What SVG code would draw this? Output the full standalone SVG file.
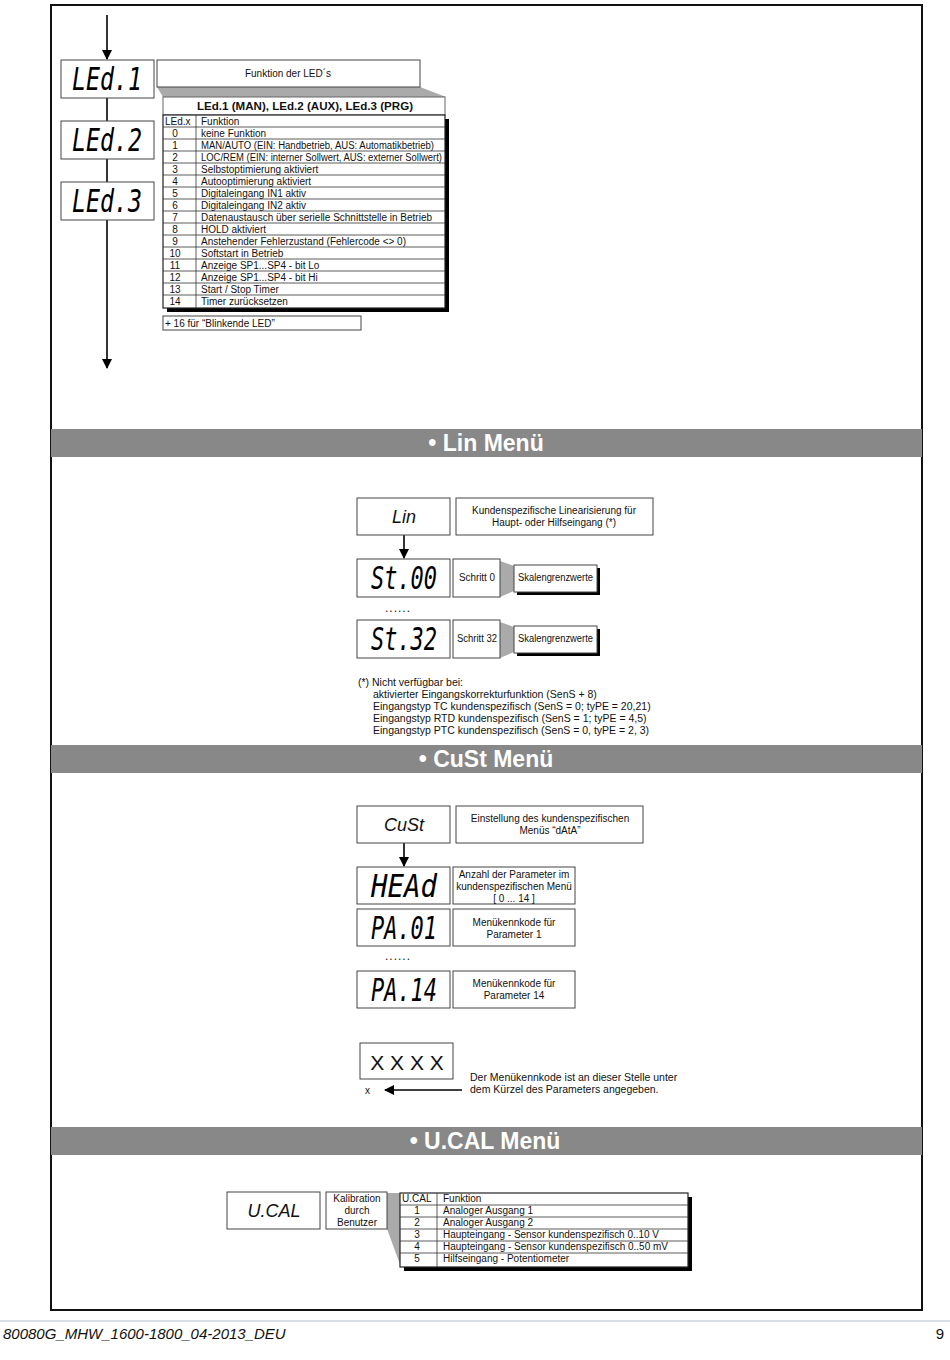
<svg xmlns="http://www.w3.org/2000/svg" width="950" height="1360" viewBox="0 0 950 1360">
<style>
text{font-family:"Liberation Sans",Arial,sans-serif;fill:#111}
.t{font-size:10px}
.tc{font-size:10px;text-anchor:middle}
.n{font-size:10.5px}
.box{fill:#fff;stroke:#444;stroke-width:1}
.seg{font-family:"DejaVu Sans Mono",monospace;font-size:26px;font-style:italic;text-anchor:middle;fill:#000}
.menu{font-size:18px;font-style:italic;text-anchor:middle}
.band{fill:#888}
.bandt{font-size:23px;font-weight:bold;fill:#fff;text-anchor:middle}
.ln{stroke:#000;stroke-width:1.6;fill:none}
.row{stroke:#333;stroke-width:0.8}
.wedge{fill:#aaa}
</style>
<defs>
<marker id="ah" markerWidth="10" markerHeight="12" refX="9" refY="5" orient="auto" markerUnits="userSpaceOnUse" viewBox="0 0 10 10">
<path d="M0,0 L10,5 L0,10 z" fill="#000"/>
</marker>
</defs>
<rect width="950" height="1360" fill="#fff"/>
<rect x="51" y="5" width="871" height="1305" fill="none" stroke="#111" stroke-width="2"/>

<g id="connectors">
<line class="ln" x1="107" y1="15" x2="107" y2="59" marker-end="url(#ah)"/>
<line class="ln" x1="107" y1="98" x2="107" y2="121"/>
<line class="ln" x1="107" y1="159" x2="107" y2="182"/>
<line class="ln" x1="107" y1="220" x2="107" y2="368" marker-end="url(#ah)"/>
<line class="ln" x1="404" y1="535" x2="404" y2="558" marker-end="url(#ah)"/>
<line class="ln" x1="404" y1="843" x2="404" y2="866" marker-end="url(#ah)"/>
<line class="ln" x1="462" y1="1090" x2="385" y2="1090" marker-end="url(#ah)"/>
</g>

<g id="led1"><rect class="box" x="61" y="60" width="93" height="38"/><text class="seg" transform="translate(107,90) scale(1,1.25)" textLength="70" lengthAdjust="spacingAndGlyphs">LEd.1</text></g>
<g id="led2"><rect class="box" x="61" y="121" width="93" height="38"/><text class="seg" transform="translate(107,151) scale(1,1.25)" textLength="70" lengthAdjust="spacingAndGlyphs">LEd.2</text></g>
<g id="led3"><rect class="box" x="61" y="182" width="93" height="38"/><text class="seg" transform="translate(107,212) scale(1,1.25)" textLength="70" lengthAdjust="spacingAndGlyphs">LEd.3</text></g>

<g id="led-title">
<polygon class="wedge" points="157,87 420,87 446,97 163,97"/>
<rect class="box" x="157" y="60" width="263" height="27"/>
<text class="tc" x="288" y="77">Funktion der LED´s</text>
</g>

<g id="led-table">
<rect x="167" y="119" width="282" height="193" fill="#000"/>
<rect x="163" y="97" width="282" height="18" fill="#fff" stroke="#666" stroke-width="1"/>
<rect x="163" y="115" width="282" height="193" fill="#fff" stroke="#222" stroke-width="1.2"/>
<text x="305" y="110" text-anchor="middle" font-size="11.5" font-weight="bold" textLength="216" lengthAdjust="spacingAndGlyphs">LEd.1 (MAN), LEd.2 (AUX), LEd.3 (PRG)</text>
<line class="row" x1="196" y1="115" x2="196" y2="308"/>
<g class="row">
<line x1="163" y1="127" x2="445" y2="127"/><line x1="163" y1="139" x2="445" y2="139"/><line x1="163" y1="151" x2="445" y2="151"/><line x1="163" y1="163" x2="445" y2="163"/><line x1="163" y1="175" x2="445" y2="175"/><line x1="163" y1="187" x2="445" y2="187"/><line x1="163" y1="199" x2="445" y2="199"/><line x1="163" y1="211" x2="445" y2="211"/><line x1="163" y1="223" x2="445" y2="223"/><line x1="163" y1="235" x2="445" y2="235"/><line x1="163" y1="247" x2="445" y2="247"/><line x1="163" y1="259" x2="445" y2="259"/><line x1="163" y1="271" x2="445" y2="271"/><line x1="163" y1="283" x2="445" y2="283"/><line x1="163" y1="295" x2="445" y2="295"/>
</g>
<text class="t" x="165" y="125">LEd.x</text><text class="t" x="201" y="125">Funktion</text>
<text class="tc" x="175" y="137">0</text><text class="t" x="201" y="137">keine Funktion</text>
<text class="tc" x="175" y="149">1</text><text class="t" x="201" y="149" textLength="233" lengthAdjust="spacingAndGlyphs">MAN/AUTO (EIN: Handbetrieb, AUS: Automatikbetrieb)</text>
<text class="tc" x="175" y="161">2</text><text class="t" x="201" y="161" textLength="241" lengthAdjust="spacingAndGlyphs">LOC/REM (EIN: interner Sollwert, AUS: externer Sollwert)</text>
<text class="tc" x="175" y="173">3</text><text class="t" x="201" y="173">Selbstoptimierung aktiviert</text>
<text class="tc" x="175" y="185">4</text><text class="t" x="201" y="185">Autooptimierung aktiviert</text>
<text class="tc" x="175" y="197">5</text><text class="t" x="201" y="197">Digitaleingang IN1 aktiv</text>
<text class="tc" x="175" y="209">6</text><text class="t" x="201" y="209">Digitaleingang IN2 aktiv</text>
<text class="tc" x="175" y="221">7</text><text class="t" x="201" y="221" textLength="231" lengthAdjust="spacingAndGlyphs">Datenaustausch über serielle Schnittstelle in Betrieb</text>
<text class="tc" x="175" y="233">8</text><text class="t" x="201" y="233">HOLD aktiviert</text>
<text class="tc" x="175" y="245">9</text><text class="t" x="201" y="245" textLength="205" lengthAdjust="spacingAndGlyphs">Anstehender Fehlerzustand (Fehlercode &lt;&gt; 0)</text>
<text class="tc" x="175" y="257">10</text><text class="t" x="201" y="257">Softstart in Betrieb</text>
<text class="tc" x="175" y="269">11</text><text class="t" x="201" y="269">Anzeige SP1...SP4 - bit Lo</text>
<text class="tc" x="175" y="281">12</text><text class="t" x="201" y="281">Anzeige SP1...SP4 - bit Hi</text>
<text class="tc" x="175" y="293">13</text><text class="t" x="201" y="293">Start / Stop Timer</text>
<text class="tc" x="175" y="305">14</text><text class="t" x="201" y="305">Timer zurücksetzen</text>
</g>

<g id="blink"><rect class="box" x="163" y="316" width="198" height="14"/><text class="t" x="165" y="327">+ 16 für “Blinkende LED”</text></g>

<g id="band-lin"><rect class="band" x="51" y="429" width="871" height="28"/><text class="bandt" x="486" y="451">• Lin Menü</text></g>

<g id="lin"><rect class="box" x="357" y="498" width="93" height="37"/><text class="menu" x="404" y="523">Lin</text></g>
<g id="lin-desc"><rect class="box" x="456" y="498" width="197" height="37"/><text class="tc" x="554" y="514">Kundenspezifische Linearisierung für</text><text class="tc" x="554" y="526">Haupt- oder Hilfseingang (*)</text></g>

<g id="st00"><rect class="box" x="357" y="559" width="93" height="38"/><text class="seg" transform="translate(404,589) scale(1,1.25)" textLength="66" lengthAdjust="spacingAndGlyphs">St.00</text></g>
<g id="schritt0">
<polygon class="wedge" points="500,561 514,566 514,591 500,597"/>
<rect class="box" x="453" y="559" width="47" height="38"/><text class="tc" x="477" y="581" textLength="36" lengthAdjust="spacingAndGlyphs">Schritt 0</text></g>
<g id="skala0"><rect x="517" y="568" width="83" height="27" fill="#000"/><rect class="box" x="514" y="565" width="83" height="27"/><text class="tc" x="555.5" y="581" textLength="75" lengthAdjust="spacingAndGlyphs">Skalengrenzwerte</text></g>
<text x="385" y="612" font-size="12" letter-spacing="1">......</text>

<g id="st32"><rect class="box" x="357" y="620" width="93" height="38"/><text class="seg" transform="translate(404,650) scale(1,1.25)" textLength="66" lengthAdjust="spacingAndGlyphs">St.32</text></g>
<g id="schritt32">
<polygon class="wedge" points="500,622 514,627 514,652 500,658"/>
<rect class="box" x="453" y="620" width="47" height="38"/><text class="tc" x="477" y="642" textLength="40" lengthAdjust="spacingAndGlyphs">Schritt 32</text></g>
<g id="skala32"><rect x="517" y="629" width="83" height="27" fill="#000"/><rect class="box" x="514" y="626" width="83" height="27"/><text class="tc" x="555.5" y="642" textLength="75" lengthAdjust="spacingAndGlyphs">Skalengrenzwerte</text></g>

<g id="lin-note">
<text class="n" x="358" y="686">(*) Nicht verfügbar bei:</text>
<text class="n" x="373" y="698">aktivierter Eingangskorrekturfunktion (SenS + 8)</text>
<text class="n" x="373" y="710">Eingangstyp TC kundenspezifisch (SenS = 0; tyPE = 20,21)</text>
<text class="n" x="373" y="722">Eingangstyp RTD kundenspezifisch (SenS = 1; tyPE = 4,5)</text>
<text class="n" x="373" y="734">Eingangstyp PTC kundenspezifisch (SenS = 0, tyPE = 2, 3)</text>
</g>

<g id="band-cust"><rect class="band" x="51" y="745" width="871" height="28"/><text class="bandt" x="486" y="767">• CuSt Menü</text></g>

<g id="cust"><rect class="box" x="357" y="806" width="93" height="37"/><text class="menu" x="404" y="831">CuSt</text></g>
<g id="cust-desc"><rect class="box" x="456" y="806" width="187" height="37"/><text class="tc" x="550" y="822">Einstellung des kundenspezifischen</text><text class="tc" x="550" y="834">Menüs “dAtA”</text></g>

<g id="head"><rect class="box" x="357" y="867" width="93" height="37"/><text class="seg" transform="translate(404,897) scale(1,1.25)" textLength="66" lengthAdjust="spacingAndGlyphs">HEAd</text></g>
<g id="head-desc"><rect class="box" x="453" y="867" width="122" height="37"/><text class="tc" x="514" y="878">Anzahl der Parameter im</text><text class="tc" x="514" y="890">kundenspezifischen Menü</text><text class="tc" x="514" y="902">[ 0 ... 14 ]</text></g>

<g id="pa01"><rect class="box" x="357" y="909" width="93" height="37"/><text class="seg" transform="translate(404,939) scale(1,1.25)" textLength="66" lengthAdjust="spacingAndGlyphs">PA.01</text></g>
<g id="pa01-desc"><rect class="box" x="453" y="909" width="122" height="37"/><text class="tc" x="514" y="926">Menükennkode für</text><text class="tc" x="514" y="938">Parameter 1</text></g>
<text x="385" y="960" font-size="12" letter-spacing="1">......</text>

<g id="pa14"><rect class="box" x="357" y="971" width="93" height="37"/><text class="seg" transform="translate(404,1001) scale(1,1.25)" textLength="66" lengthAdjust="spacingAndGlyphs">PA.14</text></g>
<g id="pa14-desc"><rect class="box" x="453" y="971" width="122" height="37"/><text class="tc" x="514" y="987">Menükennkode für</text><text class="tc" x="514" y="999">Parameter 14</text></g>

<g id="xxxx"><rect class="box" x="360" y="1043" width="93" height="36"/><text x="407" y="1070" font-size="21" text-anchor="middle">X X X X</text></g>
<text class="t" x="365" y="1094">x</text>
<g id="xxxx-note"><text class="n" x="470" y="1081">Der Menükennkode ist an dieser Stelle unter</text><text class="n" x="470" y="1093">dem Kürzel des Parameters  angegeben.</text></g>

<g id="band-ucal"><rect class="band" x="51" y="1127" width="871" height="28"/><text class="bandt" x="485" y="1149">• U.CAL Menü</text></g>

<g id="ucal"><rect class="box" x="227" y="1192" width="93" height="37"/><text class="menu" x="274" y="1217">U.CAL</text></g>
<g id="kalib">
<polygon class="wedge" points="387,1193 401,1193 401,1267 387,1229"/>
<rect class="box" x="326" y="1192" width="61" height="37"/><text class="tc" x="357" y="1202">Kalibration</text><text class="tc" x="357" y="1214">durch</text><text class="tc" x="357" y="1226">Benutzer</text></g>

<g id="ucal-table">
<rect x="404" y="1197" width="288" height="74" fill="#000"/>
<rect x="400" y="1193" width="288" height="74" fill="#fff" stroke="#222" stroke-width="1.2"/>
<line class="row" x1="437" y1="1193" x2="437" y2="1267"/>
<g class="row">
<line x1="400" y1="1205" x2="688" y2="1205"/><line x1="400" y1="1217" x2="688" y2="1217"/><line x1="400" y1="1229" x2="688" y2="1229"/><line x1="400" y1="1241" x2="688" y2="1241"/><line x1="400" y1="1253" x2="688" y2="1253"/>
</g>
<text class="t" x="402" y="1202">U.CAL</text><text class="t" x="443" y="1202">Funktion</text>
<text class="tc" x="417" y="1214">1</text><text class="t" x="443" y="1214">Analoger Ausgang 1</text>
<text class="tc" x="417" y="1226">2</text><text class="t" x="443" y="1226">Analoger Ausgang 2</text>
<text class="tc" x="417" y="1238">3</text><text class="t" x="443" y="1238" textLength="216" lengthAdjust="spacingAndGlyphs">Haupteingang - Sensor kundenspezifisch 0..10 V</text>
<text class="tc" x="417" y="1250">4</text><text class="t" x="443" y="1250" textLength="225" lengthAdjust="spacingAndGlyphs">Haupteingang - Sensor kundenspezifisch 0..50 mV</text>
<text class="tc" x="417" y="1262">5</text><text class="t" x="443" y="1262">Hilfseingang - Potentiometer</text>
</g>

<g id="footer">
<line x1="0" y1="1321" x2="950" y2="1321" stroke="#b4bccc" stroke-width="1"/>
<text x="3" y="1339" font-size="15" font-style="italic">80080G_MHW_1600-1800_04-2013_DEU</text>
<text x="944" y="1339" font-size="15" text-anchor="end">9</text>
</g>
</svg>
